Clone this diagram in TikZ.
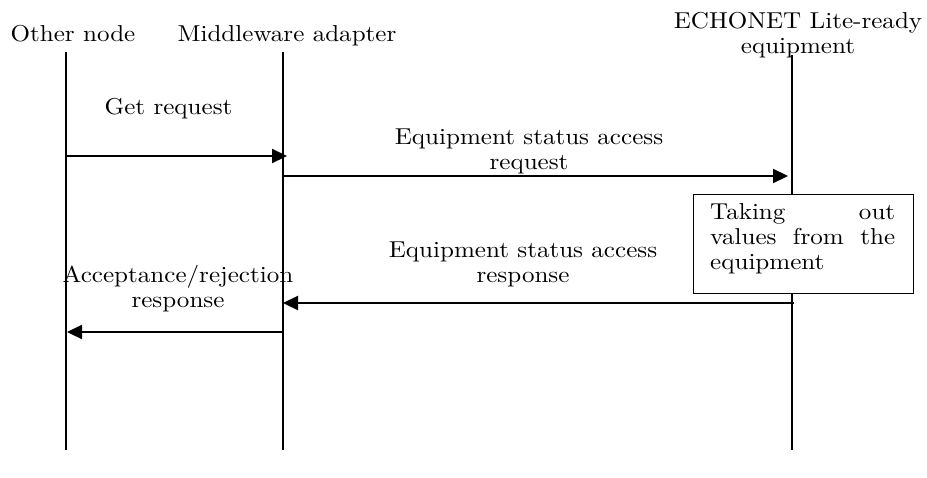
\documentclass[tikz,border=0pt]{standalone}
\usepackage{fontspec}
\setmainfont{lmroman10-regular.otf}[FakeStretch=1.09]
\usetikzlibrary{arrows.meta}
\begin{document}
\begin{tikzpicture}[x=1pt,y=-1pt,
  lbl/.style={font=\fontsize{23}{25}\selectfont, inner sep=0pt, align=center},
  life/.style={line width=1.6pt},
  msg/.style={line width=2.2pt, -{Triangle[length=15pt,width=14pt]}},
  procbox/.style={draw, line width=1.4pt, fill=white, minimum width=220pt, minimum height=99pt, inner sep=0pt, anchor=north west},
]
\useasboundingbox[fill=white] (0,0) rectangle (927,477);
% headers (base anchor = baseline of the last line)
\node[lbl, anchor=base] (hA) at (73,41) {Other node};
\node[lbl, anchor=base] (hB) at (287,41) {Middleware adapter};
\node[lbl, anchor=base] (hC) at (798,53.5) {ECHONET Lite-ready\\equipment};
% lifelines
\coordinate (A0) at (66,52);  \coordinate (A1) at (66,450);
\coordinate (B0) at (283,52); \coordinate (B1) at (283,450);
\coordinate (C0) at (792,55); \coordinate (C1) at (792,450);
\draw[life] (A0) -- (A1);
\draw[life] (B0) -- (B1);
\draw[life] (C0) -- (C1);
% process box
\node[procbox] (box) at (693,194) {};
\node[lbl, text width=185pt, align=left, anchor=north west] (boxtxt) at (710,203)
  {Taking\hfill out\\values\hfill from\hfill the\\equipment};
% messages
\coordinate (m1s) at (66,156);  \coordinate (m1e) at (287,156);
\coordinate (m2s) at (283,176); \coordinate (m2e) at (788,176);
\coordinate (m3s) at (794,303); \coordinate (m3e) at (283,303);
\coordinate (m4s) at (283,332); \coordinate (m4e) at (67,332);
\draw[msg] (m1s) -- (m1e);
\draw[msg] (m2s) -- (m2e);
\draw[msg] (m3s) -- (m3e);
\draw[msg] (m4s) -- (m4e);
% labels
\node[lbl, anchor=base] (l1) at (168.5,114) {Get request};
\node[lbl, anchor=base] (l2) at (529,169) {Equipment status access\\request};
\node[lbl, anchor=base] (l3) at (523,282) {Equipment status access\\response};
\node[lbl, anchor=base] (l4) at (178,307.5) {Acceptance/rejection\\response};
\end{tikzpicture}
\end{document}
